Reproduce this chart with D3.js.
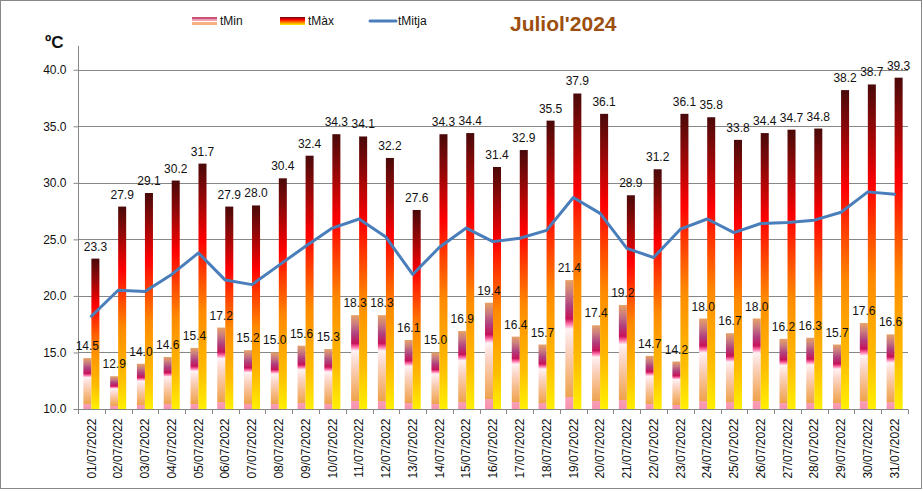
<!DOCTYPE html>
<html>
<head>
<meta charset="utf-8">
<script src="https://cdn.jsdelivr.net/npm/d3@7/dist/d3.min.js"></script>
<style>
  body { margin: 0; background: #fff; }
  svg { display: block; font-family: "Liberation Sans", Arial, sans-serif; }
</style>
</head>
<body>
<svg id="chart" width="923" height="491"></svg>
<script>
const days = ["01/07/2022","02/07/2022","03/07/2022","04/07/2022","05/07/2022","06/07/2022","07/07/2022","08/07/2022","09/07/2022","10/07/2022","11/07/2022","12/07/2022","13/07/2022","14/07/2022","15/07/2022","16/07/2022","17/07/2022","18/07/2022","19/07/2022","20/07/2022","21/07/2022","22/07/2022","23/07/2022","24/07/2022","25/07/2022","26/07/2022","27/07/2022","28/07/2022","29/07/2022","30/07/2022","31/07/2022"];
const tMin = [14.5,12.9,14.0,14.6,15.4,17.2,15.2,15.0,15.6,15.3,18.3,18.3,16.1,15.0,16.9,19.4,16.4,15.7,21.4,17.4,19.2,14.7,14.2,18.0,16.7,18.0,16.2,16.3,15.7,17.6,16.6];
const tMax = [23.3,27.9,29.1,30.2,31.7,27.9,28.0,30.4,32.4,34.3,34.1,32.2,27.6,34.3,34.4,31.4,32.9,35.5,37.9,36.1,28.9,31.2,36.1,35.8,33.8,34.4,34.7,34.8,38.2,38.7,39.3];
const tMitja = [18.2,20.5,20.4,21.9,23.8,21.4,21.0,22.7,24.4,26.0,26.8,25.2,21.9,24.3,26.0,24.8,25.1,25.8,28.7,27.3,24.2,23.4,25.9,26.8,25.6,26.4,26.5,26.7,27.4,29.2,29.0];
const yTicks = [10,15,20,25,30,35,40];
const seriesNames = ["tMin","tMàx","tMitja"];
const title = "Juliol'2024";
const yUnit = "ºC";

const svg = d3.select("#chart");
const defs = svg.append("defs");

function grad(id, stops) {
  const g = defs.append("linearGradient").attr("id", id)
    .attr("x1", 0).attr("y1", 0).attr("x2", 0).attr("y2", 1);
  stops.forEach(s => g.append("stop").attr("offset", s[0]).attr("stop-color", s[1]));
}
grad("gMax", [[0,"#4a0909"],[0.12,"#8a0808"],[0.31,"#ff0000"],[0.6,"#ff8a00"],[0.85,"#ffbe00"],[1,"#fff000"]]);
grad("gMin", [[0,"#e6a266"],[0.1,"#c87a80"],[0.2,"#b0407e"],[0.3,"#c8125a"],[0.34,"#ff70a8"],[0.38,"#fff2f4"],[0.52,"#fbd6c8"],[0.72,"#f6ba84"],[0.91,"#eea24c"],[0.91,"#f7a0b2"],[1,"#f892b0"]]);
grad("gMinLeg", [[0,"#c8507a"],[0.25,"#c8507a"],[0.25,"#f0a0b0"],[0.45,"#f0a0b0"],[0.45,"#ffffff"],[0.6,"#ffffff"],[0.6,"#f8b080"],[1,"#f8b080"]]);
grad("gMaxLeg", [[0,"#6a0808"],[0.35,"#ff0000"],[0.7,"#ff9000"],[1,"#ffee00"]]);

// frame
svg.append("rect").attr("x",0.5).attr("y",0.5).attr("width",921).attr("height",488)
  .attr("fill","#fff").attr("stroke","#888").attr("stroke-width",1);

const x = d3.scaleBand().domain(days).range([78, 908]).paddingInner(0).paddingOuter(0);
const xs = d3.scaleBand().domain(["min","max"]).range([0, x.bandwidth()]).paddingInner(0).paddingOuter(0.67);
const y = d3.scaleLinear().domain([10, 42.1]).range([409, 46]);

// gridlines
svg.append("g").selectAll("line").data(yTicks.filter(d => d > 10)).join("line")
  .attr("x1", 78).attr("x2", 908)
  .attr("y1", d => Math.round(y(d)) + 0.5).attr("y2", d => Math.round(y(d)) + 0.5)
  .attr("stroke", "#868686").attr("stroke-width", 1);

// y axis
const yAxis = d3.axisLeft(y).tickValues(yTicks).tickFormat(d3.format(".1f")).tickSize(5).tickPadding(7);
const gy = svg.append("g").attr("transform","translate(78.5,0)").call(yAxis);
gy.select(".domain").attr("stroke","#868686").attr("d","M0,46V409");
gy.selectAll(".tick line").attr("stroke","#868686");
gy.selectAll(".tick text").attr("font-size", 12).attr("fill","#111").attr("font-family","Liberation Sans, Arial, sans-serif");

// x axis
const xAxis = d3.axisBottom(x).tickSize(0).tickPadding(0);
const gx = svg.append("g").attr("transform","translate(0,409.5)").call(xAxis);
gx.select(".domain").attr("stroke","#868686").attr("d","M78,0H908");
gx.selectAll(".tick text")
  .attr("font-size", 12).attr("fill","#111").attr("font-family","Liberation Sans, Arial, sans-serif")
  .attr("transform","rotate(-90)")
  .attr("text-anchor","end").attr("x", -9).attr("y", 0).attr("dy","0.35em");
// category separator ticks
svg.append("g").selectAll("line").data(days.concat(["end"])).join("line")
  .attr("x1", (d,i) => Math.round(78 + i * x.step()) + 0.5)
  .attr("x2", (d,i) => Math.round(78 + i * x.step()) + 0.5)
  .attr("y1", 409.5).attr("y2", 414)
  .attr("stroke","#868686");

// bars
const bars = svg.append("g");
bars.selectAll("rect.min").data(tMin).join("rect").attr("class","min")
  .attr("x", (d,i) => x(days[i]) + xs("min"))
  .attr("width", xs.bandwidth())
  .attr("y", d => y(d)).attr("height", d => y(10) - y(d))
  .attr("fill","url(#gMin)");
bars.selectAll("rect.max").data(tMax).join("rect").attr("class","max")
  .attr("x", (d,i) => x(days[i]) + xs("max"))
  .attr("width", xs.bandwidth())
  .attr("y", d => y(d)).attr("height", d => y(10) - y(d))
  .attr("fill","url(#gMax)");

// line
const line = d3.line().x((d,i) => x(days[i]) + x.bandwidth()/2).y(d => y(d));
svg.append("path").datum(tMitja).attr("d", line)
  .attr("fill","none").attr("stroke","#4a7ebb").attr("stroke-width",3)
  .attr("stroke-linejoin","round").attr("stroke-linecap","round");

// labels
const lab = svg.append("g").attr("font-size", 12).attr("fill","#111").attr("text-anchor","middle");
lab.selectAll("text.lmin").data(tMin).join("text").attr("class","lmin")
  .attr("x", (d,i) => x(days[i]) + xs("min") + xs.bandwidth()/2)
  .attr("y", d => y(d) - 8).text(d => d.toFixed(1));
lab.selectAll("text.lmax").data(tMax).join("text").attr("class","lmax")
  .attr("x", (d,i) => x(days[i]) + xs("max") + xs.bandwidth()/2)
  .attr("y", d => y(d) - 8).text(d => d.toFixed(1));

// unit
svg.append("text").attr("x", 45).attr("y", 48).attr("font-size", 17).attr("font-weight","bold")
  .attr("fill","#111").text(yUnit);

// title
svg.append("text").attr("x", 510).attr("y", 31).attr("font-size", 21).attr("font-weight","bold")
  .attr("fill","#9c4f0e").text(title);

// legend
const leg = svg.append("g").attr("font-size", 12).attr("fill","#111");
leg.append("rect").attr("x",192).attr("y",17).attr("width",25).attr("height",8).attr("fill","url(#gMinLeg)");
leg.append("text").attr("x",220).attr("y",25).text(seriesNames[0]);
leg.append("rect").attr("x",280).attr("y",17).attr("width",25).attr("height",8).attr("fill","url(#gMaxLeg)");
leg.append("text").attr("x",308).attr("y",25).text(seriesNames[1]);
leg.append("line").attr("x1",370).attr("x2",396).attr("y1",21).attr("y2",21)
  .attr("stroke","#4a7ebb").attr("stroke-width",3).attr("stroke-linecap","round");
leg.append("text").attr("x",398).attr("y",25).text(seriesNames[2]);
</script>
</body>
</html>
